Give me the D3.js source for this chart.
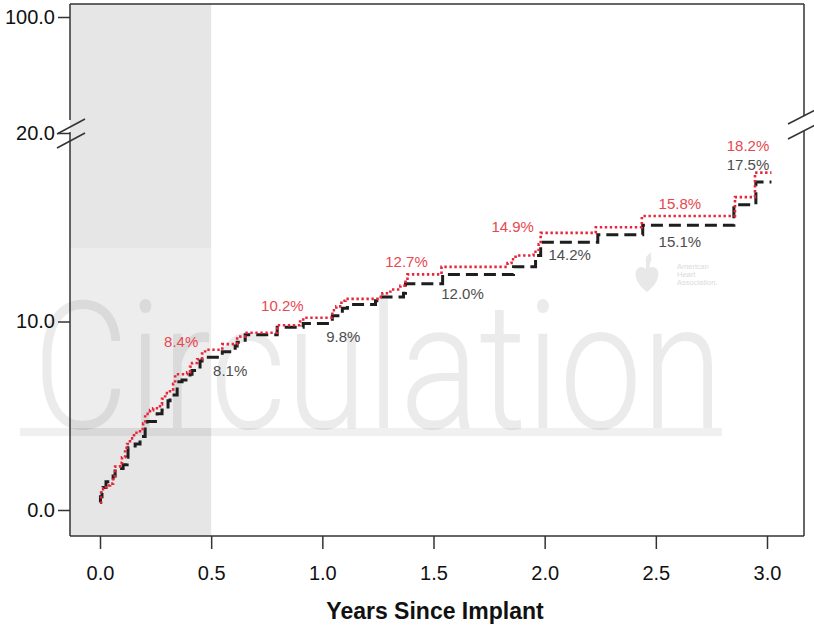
<!DOCTYPE html>
<html>
<head>
<meta charset="utf-8">
<script src="https://cdn.jsdelivr.net/npm/d3@7"></script>
<style>
  body { margin: 0; background: #fff; }
  svg { display: block; }
</style>
</head>
<body>
<script>
// cumulative incidence (%) by years since implant, step changes
const redTimes  = [0, 0.005, 0.027, 0.045, 0.059, 0.068, 0.09, 0.099, 0.113, 0.122, 0.135, 0.153, 0.18, 0.194, 0.203, 0.225, 0.239, 0.27, 0.279, 0.293, 0.315, 0.329, 0.338, 0.392, 0.405, 0.414, 0.437, 0.459, 0.473, 0.55, 0.617, 0.631, 0.653, 0.797, 0.90, 0.914, 1.045, 1.063, 1.086, 1.104, 1.248, 1.27, 1.306, 1.351, 1.374, 1.383, 1.536, 1.833, 1.851, 1.869, 1.95, 1.973, 1.982, 2.23, 2.437, 2.856, 2.946];
const redValues = [0.4, 1.1, 1.3, 1.4, 1.8, 2.3, 2.5, 2.8, 3.3, 3.5, 3.8, 4.1, 4.3, 4.6, 5.1, 5.3, 5.4, 5.6, 5.9, 6.2, 6.4, 6.7, 7.2, 7.3, 7.6, 7.8, 8.0, 8.3, 8.5, 8.8, 9.1, 9.2, 9.4, 9.8, 10.0, 10.2, 10.6, 10.8, 11.1, 11.2, 11.3, 11.5, 11.7, 11.9, 12.1, 12.5, 12.9, 13.1, 13.3, 13.5, 13.7, 14.1, 14.7, 15.0, 15.6, 16.6, 17.9];

const blackTimes  = [0, 0.002, 0.009, 0.014, 0.027, 0.059, 0.068, 0.104, 0.122, 0.126, 0.158, 0.18, 0.203, 0.212, 0.257, 0.279, 0.306, 0.315, 0.347, 0.369, 0.405, 0.414, 0.45, 0.459, 0.55, 0.608, 0.617, 0.653, 0.797, 0.914, 1.045, 1.09, 1.113, 1.239, 1.252, 1.365, 1.374, 1.541, 1.86, 1.959, 1.982, 2.239, 2.441, 2.851, 2.95];
const blackValues = [0.4, 0.7, 0.9, 1.2, 1.5, 1.8, 2.2, 2.4, 2.8, 3.3, 3.5, 3.9, 4.4, 4.7, 5.1, 5.3, 5.8, 6.1, 6.8, 6.9, 7.2, 7.4, 7.9, 8.1, 8.4, 8.7, 8.9, 9.3, 9.7, 9.9, 10.3, 10.7, 10.9, 11.1, 11.3, 11.5, 12.0, 12.5, 12.9, 13.5, 14.2, 14.6, 15.1, 16.2, 17.4];

const curveEnd = 3.02;

const labelYears  = [0.5, 1.0, 1.5, 2.0, 2.5, 3.0];
const redLabels   = [8.4, 10.2, 12.7, 14.9, 15.8, 18.2];
const blackLabels = [8.1, 9.8, 12.0, 14.2, 15.1, 17.5];

const xTicks = [0, 0.5, 1, 1.5, 2, 2.5, 3];
const yTicksLow = [0, 10, 20];
const yTicksHigh = [100];
const shadedUntil = 0.5;

const W = 814, H = 626;
const boxL = 70, boxR = 804, boxT = 4, boxB = 536;

const svg = d3.select('body').append('svg')
    .attr('width', W)
    .attr('height', H);

const x = d3.scaleLinear().domain([0, 3]).range([100, 767]);
const y = d3.scaleLinear().domain([0, 20]).range([510, 133]);
const yHigh = d3.scaleLinear().domain([20, 100]).range([119, 17]);

const sans = '"Liberation Sans", Arial, sans-serif';

// shaded first 6 months
svg.append('rect')
    .attr('x', boxL).attr('y', boxT)
    .attr('width', x(shadedUntil) - boxL)
    .attr('height', boxB - boxT)
    .attr('fill', '#e6e6e6');

// journal watermark
const wm = svg.append('g').attr('class', 'watermark');
wm.append('rect')
    .attr('x', 20).attr('y', 248).attr('width', 702).attr('height', 180)
    .attr('fill', '#fff').attr('opacity', 0.3);
wm.append('text')
    .attr('x', 33).attr('y', 428)
    .attr('font-family', 'Roboto, sans-serif')
    .attr('font-weight', 300)
    .attr('font-size', 178)
    .attr('textLength', 690)
    .attr('lengthAdjust', 'spacingAndGlyphs')
    .attr('fill', '#000').attr('opacity', 0.075)
    .text('Circulation');
wm.append('rect')
    .attr('x', 20).attr('y', 428).attr('width', 702).attr('height', 8)
    .attr('fill', '#000').attr('opacity', 0.06);

// AHA logo
const logo = svg.append('g').attr('transform', 'translate(647,276)');
logo.append('path')
    .attr('d', 'M0,16 C-14,6 -14,-8 -6,-9 C-2,-9 0,-6 0,-4 C0,-6 2,-9 6,-9 C14,-8 14,6 0,16 Z')
    .attr('fill', '#e8e8e8');
logo.append('path')
    .attr('d', 'M-1,-4 L-1,-14 C-3,-18 2,-22 4,-24 C3,-20 6,-17 3,-13 L2,-4 Z')
    .attr('fill', '#e8e8e8');
logo.selectAll('text').data(['American', 'Heart', 'Association.'])
    .enter().append('text')
    .attr('x', 30).attr('y', (d, i) => -7 + i * 8)
    .attr('font-family', sans).attr('font-size', 7.5)
    .attr('fill', '#dadada')
    .text(d => d);

// curves
const line = d3.line()
    .x(d => x(d[0]))
    .y(d => y(d[1]))
    .curve(d3.curveStepAfter);

const blackPts = blackTimes.map((t, i) => [t, blackValues[i]]);
blackPts.push([curveEnd, blackValues[blackValues.length - 1]]);
const redPts = redTimes.map((t, i) => [t, redValues[i]]);
redPts.push([curveEnd, redValues[redValues.length - 1]]);

svg.append('path')
    .datum(blackPts)
    .attr('d', line)
    .attr('fill', 'none')
    .attr('stroke', '#1e1e1e')
    .attr('stroke-width', 3)
    .attr('stroke-dasharray', '12,6');

svg.append('path')
    .datum(redPts)
    .attr('d', line)
    .attr('fill', 'none')
    .attr('stroke', '#e8263a')
    .attr('stroke-width', 2.6)
    .attr('stroke-dasharray', '2.4,2.6');

// percentage labels
const redOff = [[-30, -10], [-40, -12], [-27, -9], [-32, -3], [24, -9], [-19, -21]];
const blackOff = [[19, 13], [21, 11], [29, 10], [25, 12], [24, 16], [-19, -16]];

svg.selectAll('.redlab').data(redLabels).enter().append('text')
    .attr('class', 'redlab')
    .attr('x', (d, i) => x(labelYears[i]) + redOff[i][0])
    .attr('y', (d, i) => y(d) + redOff[i][1])
    .attr('text-anchor', 'middle').attr('dy', '0.36em')
    .attr('font-family', sans).attr('font-size', 15)
    .attr('fill', '#e8474f')
    .text(d => d.toFixed(1) + '%');

svg.selectAll('.blacklab').data(blackLabels).enter().append('text')
    .attr('class', 'blacklab')
    .attr('x', (d, i) => x(labelYears[i]) + blackOff[i][0])
    .attr('y', (d, i) => y(d) + blackOff[i][1])
    .attr('text-anchor', 'middle').attr('dy', '0.36em')
    .attr('font-family', sans).attr('font-size', 15)
    .attr('fill', '#4d4d4d')
    .text(d => d.toFixed(1) + '%');

// frame with broken y axis
const frame = svg.append('g')
    .attr('stroke', '#333').attr('stroke-width', 1.5).attr('fill', 'none');
const breakL = y(20), breakR = 130;
frame.append('line').attr('x1', boxL).attr('x2', boxR).attr('y1', boxT).attr('y2', boxT);
frame.append('line').attr('x1', boxL).attr('x2', boxR).attr('y1', boxB).attr('y2', boxB);
frame.append('line').attr('x1', boxL).attr('x2', boxL).attr('y1', boxT).attr('y2', breakL - 13);
frame.append('line').attr('x1', boxL).attr('x2', boxL).attr('y1', breakL - 1).attr('y2', boxB);
frame.append('line').attr('x1', boxR).attr('x2', boxR).attr('y1', boxT).attr('y2', breakR - 14);
frame.append('line').attr('x1', boxR).attr('x2', boxR).attr('y1', breakR + 1).attr('y2', boxB);

// break marks
[[boxL, breakL - 6], [boxL, breakL + 8]].forEach(p => {
  frame.append('line')
      .attr('x1', p[0] - 13).attr('y1', p[1] + 7)
      .attr('x2', p[0] + 15).attr('y2', p[1] - 8);
});
[[boxR, breakR - 14], [boxR, breakR + 1]].forEach(p => {
  frame.append('line')
      .attr('x1', p[0] - 16).attr('y1', p[1] + 8)
      .attr('x2', p[0] + 13).attr('y2', p[1] - 7);
});

// axes
const fmt = d3.format('.1f');

const xAxis = svg.append('g')
    .attr('transform', `translate(0,${boxB})`)
    .call(d3.axisBottom(x).tickValues(xTicks).tickFormat(fmt).tickSize(13).tickPadding(17));
xAxis.select('.domain').remove();
xAxis.selectAll('line').attr('stroke', '#333').attr('stroke-width', 1.5);
xAxis.selectAll('text')
    .attr('font-family', sans).attr('font-size', 20).attr('fill', '#111');

const yAxis = svg.append('g')
    .attr('transform', `translate(${boxL},0)`)
    .call(d3.axisLeft(y).tickValues(yTicksLow).tickFormat(fmt).tickSize(12).tickPadding(3));
yAxis.select('.domain').remove();

const yAxisHigh = svg.append('g')
    .attr('transform', `translate(${boxL},0)`)
    .call(d3.axisLeft(yHigh).tickValues(yTicksHigh).tickFormat(fmt).tickSize(12).tickPadding(3));
yAxisHigh.select('.domain').remove();

[yAxis, yAxisHigh].forEach(g => {
  g.selectAll('line').attr('stroke', '#333').attr('stroke-width', 1.5);
  g.selectAll('text').attr('font-family', sans).attr('font-size', 20).attr('fill', '#111');
});

svg.append('text')
    .attr('x', 435).attr('y', 619)
    .attr('text-anchor', 'middle')
    .attr('font-family', sans).attr('font-weight', 'bold').attr('font-size', 23)
    .attr('fill', '#111')
    .text('Years Since Implant');
</script>
</body>
</html>
